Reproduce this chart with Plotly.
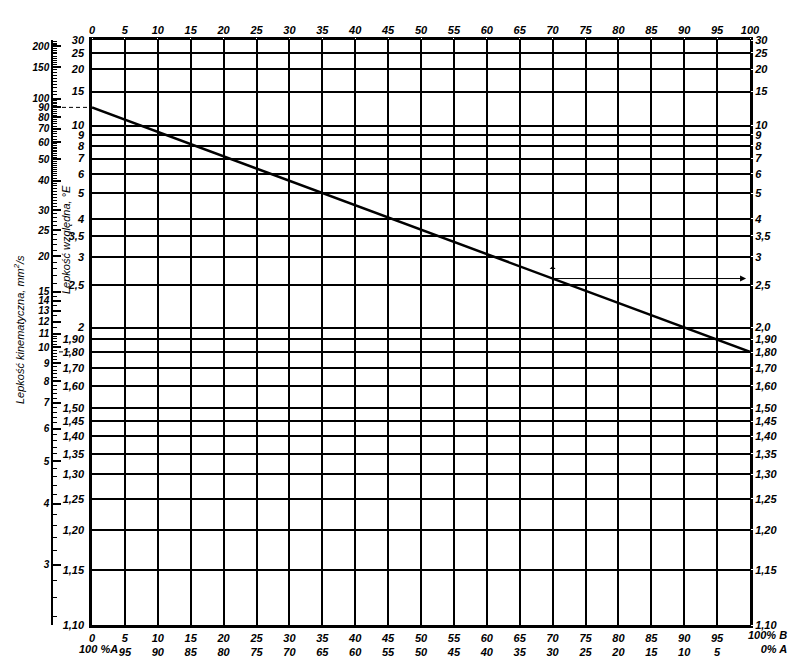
import numpy as np
import plotly.graph_objects as go

# ---------------- data ----------------
engler_vals = [30, 25, 20, 15, 10, 9, 8, 7, 6, 5, 4, 3.5, 3, 2.5, 2, 1.90, 1.80, 1.70,
               1.60, 1.50, 1.45, 1.40, 1.35, 1.30, 1.25, 1.20, 1.15, 1.10]
engler_left_text = ["30", "25", "20", "15", "10", "9", "8", "7", "6", "5", "4", "3,5", "3",
                    "2,5", "2", "1,90", "1,80", "1,70", "1,60", "1,50", "1,45", "1,40",
                    "1,35", "1,30", "1,25", "1,20", "1,15", "1,10"]
engler_right_text = ["30", "25", "20", "15", "10", "9", "8", "7", "6", "5", "4", "3,5", "3",
                     "2,5", "2,0", "1,90", "1,80", "1,70", "1,60", "1,50", "1,45", "1,40",
                     "1,35", "1,30", "1,25", "1,20", "1,15", "1,10"]
visc_major = [200, 150, 100, 90, 80, 70, 60, 50, 40, 30, 25, 20, 15, 14, 13, 12, 11,
              10, 9, 8, 7, 6, 5, 4, 3]
visc_major_text = [str(v) for v in visc_major]
visc_minor = ([220, 215, 210, 205, 195, 190, 185, 180, 175, 170, 165, 160, 155,
               145, 140, 135, 130, 125, 120, 115, 110, 105, 98, 96, 94, 92, 88, 86, 84, 82,
               78, 76, 74, 72, 68, 66, 64, 62, 59, 58, 57, 56, 55, 54, 53, 52, 51,
               49, 48, 47, 46, 45, 44, 43, 42, 41, 39, 38, 37, 36, 35, 34, 33, 32, 31,
               29, 28, 27, 26, 24, 23, 22, 21, 19, 18, 17, 16, 14.5, 13.5, 12.5, 11.5,
               10.8, 10.6, 10.4, 10.2, 9.8, 9.6, 9.4, 9.2, 8.8, 8.6, 8.4, 8.2,
               7.8, 7.6, 7.4, 7.2, 6.8, 6.6, 6.4, 6.2, 5.8, 5.6, 5.4, 5.2, 4.8, 4.6, 4.4, 4.2,
               3.8, 3.6, 3.4, 3.2, 2.8, 2.6, 2.4])
pct_ticks = list(range(0, 105, 5))
pct_top_text = [str(v) for v in pct_ticks]
pct_bottom_b = [str(v) for v in range(0, 100, 5)]
pct_bottom_a = ["", "95", "90", "85", "80", "75", "70", "65", "60", "55", "50", "45",
                "40", "35", "30", "25", "20", "15", "10", "5"]
# blend line: % B vs kinematic viscosity (mm2/s)
line_pct = [0, 100]
line_visc = [90.0, 9.7]
read_pct = 70


# ---------------- scale ----------------
def engler_to_visc(e):
    e = np.asarray(e, dtype=float)
    return 7.32 * e - 6.31 / e


def yscale(v):
    v = np.asarray(v, dtype=float)
    return np.log10(np.log10(v + 0.8))


y_eng = yscale(engler_to_visc(engler_vals))
y_range = [float(yscale(engler_to_visc(1.10))), float(yscale(engler_to_visc(30)))]
y_line = yscale(line_visc)
y_read = float(np.interp(read_pct, line_pct, y_line))

W, H = 800, 670
ML, MR, MT, MB = 10, 50, 40, 45
pw = W - ML - MR
ph = H - MT - MB
x_dom0 = (92 - ML) / pw


def px_to_paper(px):
    return (px - ML) / pw


def py_to_paper(py):
    return (H - MB - py) / ph


FONT = "Liberation Sans, Arial, sans-serif"
tickfont = dict(family=FONT, size=11, color="black", style="italic", weight="bold")
viscfont = dict(family=FONT, size=10, color="black", style="italic", weight="bold")

fig = go.Figure()
fig.add_trace(go.Scatter(x=line_pct, y=y_line, mode="lines",
                         line=dict(color="black", width=2.5), xaxis="x", yaxis="y",
                         showlegend=False, hoverinfo="skip"))
# invisible traces to bind overlay axes
fig.add_trace(go.Scatter(x=line_pct, y=y_line, mode="lines", line=dict(width=0, color="rgba(0,0,0,0)"),
                         xaxis="x2", yaxis="y2", showlegend=False, hoverinfo="skip"))
fig.add_trace(go.Scatter(x=line_pct, y=y_line, mode="lines", line=dict(width=0, color="rgba(0,0,0,0)"),
                         xaxis="x", yaxis="y3", showlegend=False, hoverinfo="skip"))

fig.update_layout(
    template="none",
    width=W, height=H,
    margin=dict(l=ML, r=MR, t=MT, b=MB, autoexpand=False),
    paper_bgcolor="white", plot_bgcolor="white",
    font=dict(family=FONT, size=11, color="black"),
    showlegend=False,
    xaxis=dict(domain=[x_dom0, 1], range=[0, 100], tickmode="array",
               tickvals=pct_ticks[:-1],
               ticktext=[f"{b}<br>{a}" for b, a in zip(pct_bottom_b, pct_bottom_a)],
               showgrid=True, gridcolor="black", gridwidth=2, zeroline=False,
               showline=True, linecolor="black", linewidth=2.5, mirror=True,
               ticks="outside", ticklen=1, tickcolor="white", tickfont=tickfont,
               anchor="y", automargin=False),
    xaxis2=dict(domain=[x_dom0, 1], range=[0, 100], overlaying="x", side="top",
                anchor="y", tickmode="array", tickvals=pct_ticks, ticktext=pct_top_text,
                showgrid=False, zeroline=False, ticks="outside", ticklen=1,
                tickcolor="white", tickfont=tickfont, automargin=False),
    yaxis=dict(domain=[0, 1], range=y_range, tickmode="array", tickvals=y_eng,
               ticktext=engler_left_text, showgrid=True, gridcolor="black", gridwidth=2,
               zeroline=False, showline=True, linecolor="black", linewidth=2.5, mirror=True,
               ticks="outside", ticklen=3, tickcolor="white", tickfont=tickfont, anchor="x",
               automargin=False),
    yaxis2=dict(range=y_range, overlaying="y", side="right", anchor="x", tickmode="array",
                tickvals=y_eng, ticktext=engler_right_text, showgrid=False, zeroline=False,
                ticks="outside", ticklen=2, tickcolor="white", tickfont=tickfont,
                automargin=False),
    yaxis3=dict(range=y_range, overlaying="y", side="left", anchor="free",
                position=px_to_paper(52), tickmode="array",
                tickvals=yscale(visc_major), ticktext=visc_major_text,
                showgrid=False, zeroline=False, showline=True, linecolor="black",
                linewidth=1.5, ticks="inside", ticklen=8, tickwidth=1.5, tickcolor="black",
                tickfont=viscfont, automargin=False,
                minor=dict(tickmode="array", tickvals=yscale(visc_minor), ticks="inside",
                           ticklen=4, tickwidth=1, tickcolor="black", showgrid=False)),
)

# dashed reference lines to the kinematic viscosity scale
fig.add_shape(type="line", xref="paper", yref="y", x0=px_to_paper(55), x1=x_dom0,
              y0=float(y_line[0]), y1=float(y_line[0]),
              line=dict(color="black", width=1, dash="4px,3px"))
fig.add_shape(type="line", xref="paper", yref="y", x0=px_to_paper(59), x1=px_to_paper(71),
              y0=float(y_line[1]), y1=float(y_line[1]),
              line=dict(color="black", width=1, dash="4px,3px"))

# reading arrows
fig.add_annotation(x=read_pct, y=y_read, xref="x", yref="y", text="", showarrow=True,
                   ax=0, ay=-14, arrowside="start", arrowhead=2, arrowsize=1, arrowwidth=1,
                   arrowcolor="black")
fig.add_annotation(x=99.4, y=y_read, xref="x", yref="y", ax=read_pct, ay=y_read,
                   axref="x", ayref="y", text="", showarrow=True, arrowhead=2,
                   arrowsize=1.2, arrowwidth=1, arrowcolor="black")

# edge labels of the bottom scale
fig.add_annotation(x=0, y=0, xref="x", yref="paper", text="100 %A", showarrow=False,
                   xanchor="center", yanchor="top", xshift=6, yshift=-16, font=tickfont)
fig.add_annotation(x=100, y=0, xref="x", yref="paper", text="100% B<br>0% A",
                   showarrow=False, xanchor="left", yanchor="top", xshift=-4, yshift=-2,
                   align="right", font=tickfont)

# axis titles
fig.add_annotation(x=px_to_paper(19), y=py_to_paper(330), xref="paper",
                   yref="paper", xanchor="center", yanchor="middle",
                   text="Lepkość kinematyczna, mm<sup>2</sup>/s",
                   textangle=-90, showarrow=False,
                   font=dict(family=FONT, size=11, color="black", style="italic"))
fig.add_annotation(x=px_to_paper(66), y=py_to_paper(240), xref="paper",
                   yref="paper", xanchor="center", yanchor="middle",
                   text="Lepkość względna, °E", textangle=-90, showarrow=False,
                   font=dict(family=FONT, size=11, color="black", style="italic"))

fig.write_html("out.html", post_script="document.body.style.margin='0px';",
               config={"displayModeBar": False})
